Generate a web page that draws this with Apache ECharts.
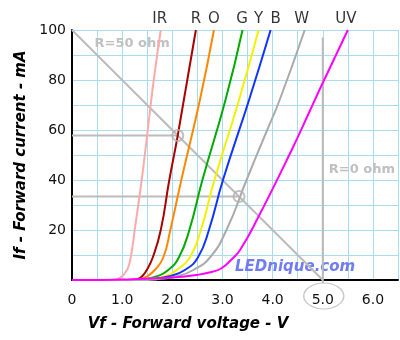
<!DOCTYPE html>
<html>
<head>
<meta charset="utf-8">
<script src="https://cdn.jsdelivr.net/npm/echarts@6/dist/echarts.min.js"></script>
<style>
  html, body { margin: 0; padding: 0; background: #fff; }
  #chart { width: 400px; height: 340px; }
</style>
</head>
<body>
<div id="chart"></div>
<script>
// LED forward curves, [voltage V, current mA]
var irData = [[0,0],[0.8,0],[0.9,0.3],[1.0,1.5],[1.06,3],[1.12,5],[1.18,10],[1.25,20],[1.39,40],[1.51,60],[1.63,80],[1.77,100]];
var redData = [[0,0],[1.2,0],[1.3,0.3],[1.4,1.5],[1.49,4],[1.61,9],[1.77,20],[1.94,40],[2.11,58],[2.47,100]];
var orangeData = [[0,0],[1.25,0],[1.35,0.3],[1.5,1.5],[1.65,4],[1.82,9],[1.96,20],[2.18,40],[2.55,72],[2.83,100]];
var greenData = [[0,0],[1.3,0],[1.42,0.3],[1.7,1.5],[1.92,4],[2.13,9],[2.34,20],[2.60,40],[3.06,72],[3.40,100]];
var yellowData = [[0,0],[1.35,0],[1.5,0.3],[1.85,1.5],[2.09,4],[2.35,9],[2.57,20],[2.84,40],[3.33,72],[3.72,100]];
var blueData = [[0,0],[1.4,0],[1.55,0.3],[1.95,1.5],[2.25,4],[2.51,9],[2.73,20],[3.01,40],[3.53,72],[3.96,100]];
var whiteData = [[0,0],[1.5,0],[1.69,0.3],[2.1,1.5],[2.42,4],[2.75,9],[3.08,20],[3.48,40],[3.85,58],[4.14,72],[4.64,100]];
var uvData = [[0,0],[0.6,0],[1.2,0.3],[2.0,1],[2.48,2],[2.8,3.3],[2.98,4.7],[3.17,8],[3.35,12],[3.71,25],[4.38,52],[4.75,68],[4.98,78],[5.5,100]];

// curve names along the top
var ledNames = ['IR', 'R', 'O', 'G', 'Y', 'B', 'W', 'UV'];
var ledNameVolts = [1.75, 2.47, 2.83, 3.39, 3.72, 4.06, 4.58, 5.46];

// 5V supply: 50 ohm load line, working points, 0 ohm line
var loadLine = [[0,100],[5,0]];
var workPoints = [[2.11,57.8],[3.33,33.4]];
var workLevel1 = [[0,57.8],[2.11,57.8]];
var workLevel2 = [[0,33.4],[3.33,33.4]];
var zeroOhmLine = [[5,-1.3],[5,97]];

var font = 'DejaVu Sans';
var chart = echarts.init(document.getElementById('chart'));

function curve(name, data, color) {
    return {
        name: name, type: 'line', data: data,
        smooth: 0.5,
        symbol: 'none', silent: true,
        lineStyle: { color: color, width: 2 },
        z: 3
    };
}
function helper(data) {
    return {
        type: 'line', data: data, symbol: 'none', silent: true, clip: false,
        lineStyle: { color: '#bbbbbb', width: 2 }, z: 2
    };
}

var option = {
    animation: false,
    grid: { left: 72, right: 2, top: 30, bottom: 60, outerBoundsMode: 'none' },
    xAxis: {
        type: 'value', min: 0, max: 6.5, interval: 0.5,
        name: 'Vf - Forward voltage - V',
        nameLocation: 'middle', nameGap: 37,
        nameTextStyle: { fontFamily: font, fontSize: 15, fontWeight: 'bold', fontStyle: 'italic', color: '#000', padding: [0, 94, 0, 0] },
        axisLine: { lineStyle: { color: '#000', width: 2 } },
        axisTick: { show: false },
        axisLabel: {
            fontFamily: font, fontSize: 14, color: '#111', margin: 13,
            formatter: function (v) {
                if (v % 1 !== 0) return '';
                return v === 0 ? '0' : v.toFixed(1);
            }
        },
        splitLine: { show: true, lineStyle: { color: '#aadcf0', width: 1 } }
    },
    yAxis: {
        type: 'value', min: 0, max: 100, interval: 10,
        name: 'If - Forward current - mA',
        nameLocation: 'middle', nameGap: 33, nameRotate: 90,
        nameTextStyle: { fontFamily: font, fontSize: 15, fontWeight: 'bold', fontStyle: 'italic', color: '#000' },
        axisLine: { show: true, lineStyle: { color: '#000', width: 2 } },
        axisTick: { show: false },
        axisLabel: {
            fontFamily: font, fontSize: 14, color: '#111', margin: 6,
            formatter: function (v) { return (v % 20 === 0 && v !== 0) ? String(v) : ''; }
        },
        splitLine: { show: true, lineStyle: { color: '#aadcf0', width: 1 } }
    },
    series: [
        helper(loadLine),
        helper(workLevel1),
        helper(workLevel2),
        helper(zeroOhmLine),
        {
            type: 'scatter', data: workPoints, symbol: 'circle', symbolSize: 11, silent: true,
            itemStyle: { color: 'rgba(0,0,0,0)', borderColor: '#b0b0b0', borderWidth: 2 }, z: 4
        },
        curve('IR', irData, '#ffaaaa'),
        curve('R', redData, '#aa0000'),
        curve('O', orangeData, '#ff8800'),
        curve('G', greenData, '#00aa00'),
        curve('Y', yellowData, '#f2f200'),
        curve('B', blueData, '#1133ff'),
        curve('W', whiteData, '#aaaaaa'),
        curve('UV', uvData, '#ff00ff'),
        {
            type: 'scatter', symbolSize: 0, silent: true, clip: false,
            data: ledNames.map(function (n, i) { return { name: n, value: [ledNameVolts[i], 100] }; }),
            label: {
                show: true, position: 'top', distance: 3, formatter: '{b}',
                fontFamily: font, fontSize: 15, color: '#000'
            }
        }
    ]
};
chart.setOption(option);

// annotations placed through the axes
var p50 = chart.convertToPixel({ gridIndex: 0 }, [0.45, 94.5]);
var p0 = chart.convertToPixel({ gridIndex: 0 }, [5.12, 44]);
var pWeb = chart.convertToPixel({ gridIndex: 0 }, [3.25, 5.2]);
var p5 = chart.convertToPixel({ gridIndex: 0 }, [5.0, 0]);
chart.setOption({
    graphic: [
        { type: 'text', x: p50[0], y: p50[1], style: { text: 'R=50 ohm', fill: '#c0c0c0', font: 'bold 13px ' + font, verticalAlign: 'middle' } },
        { type: 'text', x: p0[0], y: p0[1], style: { text: 'R=0 ohm', fill: '#c0c0c0', font: 'bold 13px ' + font, verticalAlign: 'middle' } },
        { type: 'text', x: pWeb[0], y: pWeb[1], style: { text: 'LEDnique.com', fill: '#6f7cf5', font: 'italic bold 15px ' + font, verticalAlign: 'middle' } },
        { type: 'circle', x: p5[0] + 1, y: p5[1] + 16, scaleY: 0.65, shape: { cx: 0, cy: 0, r: 20 }, style: { fill: 'none', stroke: '#c8c8c8', lineWidth: 1.5 } }
    ]
});
</script>
</body>
</html>
